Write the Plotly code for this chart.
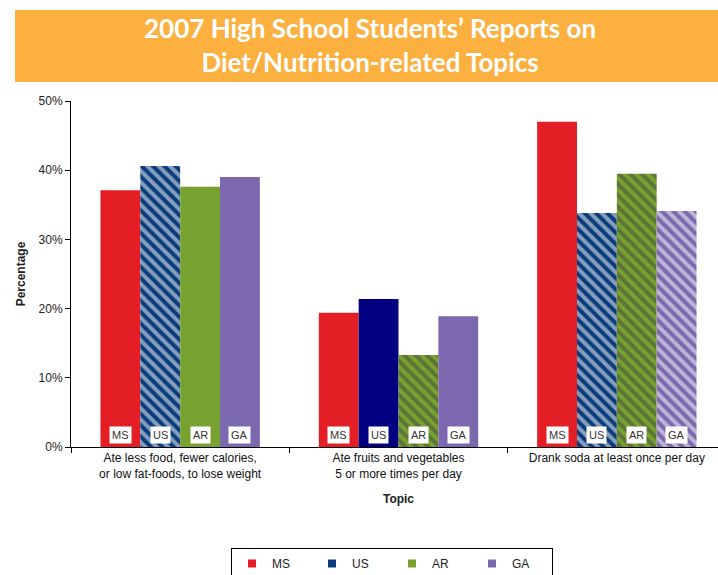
import plotly.graph_objects as go

topics = ["Ate less food, fewer calories,<br>or low fat-foods, to lose weight",
          "Ate fruits and vegetables<br>5 or more times per day",
          "Drank soda at least once per day"]
states = ["MS", "US", "AR", "GA"]
values = {
    "MS": [37.1, 19.4, 47.0],
    "US": [40.6, 21.4, 33.8],
    "AR": [37.6, 13.3, 39.5],
    "GA": [39.0, 18.9, 34.1],
}
hatched = {
    "MS": [False, False, False],
    "US": [True, False, True],
    "AR": [False, True, True],
    "GA": [False, False, True],
}
colors = {"MS": "#E31E24", "US": "#0A3C7C", "AR": "#77A22F", "GA": "#7B68AE"}
bar_colors = {
    "MS": ["#E31E24"] * 3,
    "US": ["#0A3C7C", "#000080", "#0A3C7C"],
    "AR": ["#77A22F"] * 3,
    "GA": ["#7B68AE"] * 3,
}

W, H = 726, 575
L, R, T, B = 71, 0, 101, 128
PW, PH = W - L - R, H - T - B

BARGAP = 0.27
fig = go.Figure()
for s in states:
    h = hatched[s]
    fig.add_trace(go.Bar(
        x=topics, y=[v / 100 for v in values[s]], name=s, showlegend=False,
        marker=dict(
            color=bar_colors[s],
            line=dict(width=0),
            pattern=dict(
                shape=["\\" if hh else "" for hh in h],
                fgcolor="white", size=8, solidity=0.5, fillmode="overlay"),
        ),
        hoverinfo="skip",
    ))
    fig.add_trace(go.Scatter(
        x=[None], y=[None], mode="markers", name=s,
        marker=dict(symbol="square", size=8, color=colors[s]),
    ))

# state labels at bar bottoms
w = (1 - BARGAP) / len(states)
annotations = []
for ci in range(len(topics)):
    for si, s in enumerate(states):
        annotations.append(dict(
            x=ci + (si - 1.5) * w, y=0, xref="x", yref="y",
            text=s, showarrow=False, yanchor="bottom", yshift=3,
            bgcolor="white", borderpad=2,
            font=dict(family="Arial, Liberation Sans", size=11, color="#333333")))

annotations.append(dict(
    x=(370 - L) / PW, y=1 + (T - 45) / PH, xref="paper", yref="paper",
    yanchor="middle", xanchor="center",
    text="<b>2007 High School Students’ Reports on<br>Diet/Nutrition-related Topics</b>",
    showarrow=False, font=dict(family="Lato, Open Sans", size=26, color="white")))

fig.update_layout(
    width=W, height=H,
    margin=dict(l=L, r=R, t=T, b=B),
    paper_bgcolor="white", plot_bgcolor="white",
    barmode="group", bargap=BARGAP, bargroupgap=0,
    font=dict(family="Arial, Liberation Sans", size=12, color="#222222"),
    shapes=[dict(type="rect", xref="paper", yref="paper",
                 x0=(15 - L) / PW, x1=1.05,
                 y0=1 + (T - 82) / PH, y1=1 + (T - 10) / PH,
                 fillcolor="#FBB040", line=dict(width=0), layer="below")],
    annotations=annotations,
    legend=dict(orientation="h", x=(231 - L) / PW, xanchor="left",
                yref="container", y=(H - 548) / H, yanchor="top",
                bordercolor="black", borderwidth=1, entrywidth=35,
                font=dict(size=12, color="#222222"), itemclick=False),
    xaxis=dict(showline=True, linecolor="black", linewidth=1,
               ticks="outside", tickson="boundaries", ticklen=5, tickcolor="black",
               title=dict(text="<b>Topic</b>", standoff=14, font=dict(size=12)),
               tickfont=dict(size=12, color="#111111")),
    yaxis=dict(range=[0, 0.5], dtick=0.1, tickformat=".0%",
               showline=True, linecolor="black", linewidth=1,
               ticks="outside", ticklen=5, tickcolor="black",
               showgrid=False, zeroline=False,
               title=dict(text="<b>Percentage</b>", standoff=10, font=dict(size=12)),
               tickfont=dict(size=12, color="#222222")),
)
fig.write_html("out.html", config={"displayModeBar": False},
               post_script="document.body.style.margin='0';document.body.style.overflow='hidden';")
